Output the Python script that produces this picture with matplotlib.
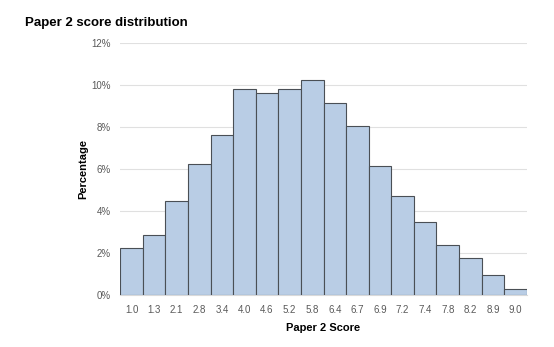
import matplotlib
matplotlib.use('Agg')
import matplotlib.pyplot as plt
from matplotlib.ticker import PercentFormatter

plt.rcParams['font.family'] = ['Liberation Sans', 'DejaVu Sans']

# Score bin labels and share of candidates (%)
scores = ['1.0', '1.3', '2.1', '2.8', '3.4', '4.0', '4.6', '5.2', '5.8',
          '6.4', '6.7', '6.9', '7.2', '7.4', '7.8', '8.2', '8.9', '9.0']
percentages = [2.22, 2.84, 4.49, 6.24, 7.63, 9.79, 9.60, 9.79, 10.24,
               9.16, 8.05, 6.16, 4.73, 3.46, 2.37, 1.76, 0.97, 0.29]

fig = plt.figure(figsize=(5.54, 3.47), dpi=100)
ax = fig.add_axes([0.217, 0.150, 0.734, 0.726])

x = range(len(scores))
ax.bar(x, percentages, width=1.0, color='#B9CDE5', edgecolor='#4A4F55',
       linewidth=0.8, zorder=3)

ax.set_xlim(-0.5, len(scores) - 0.5)
ax.set_ylim(0, 12)
ax.set_yticks(range(0, 13, 2))
ax.yaxis.set_major_formatter(PercentFormatter(decimals=0))
ax.set_xticks(list(x))
ax.set_xticklabels(scores)
ax.grid(axis='y', color='#E0E0E0', linewidth=0.8, zorder=0)

for side in ['top', 'right', 'left']:
    ax.spines[side].set_visible(False)
ax.spines['bottom'].set_color('#D9D9D9')
ax.tick_params(axis='both', length=0, labelsize=7, colors='#595959', pad=7)
ax.tick_params(axis='y', pad=7)

ax.set_xlabel('Paper 2 Score', fontsize=8, fontweight='bold', labelpad=6)
ax.set_ylabel('Percentage', fontsize=8, fontweight='bold', labelpad=2)

fig.text(0.045, 0.935, 'Paper 2 score distribution', fontsize=9.5,
         fontweight='bold', ha='left', va='center')

plt.savefig('out.png', dpi=100)
plt.close()
